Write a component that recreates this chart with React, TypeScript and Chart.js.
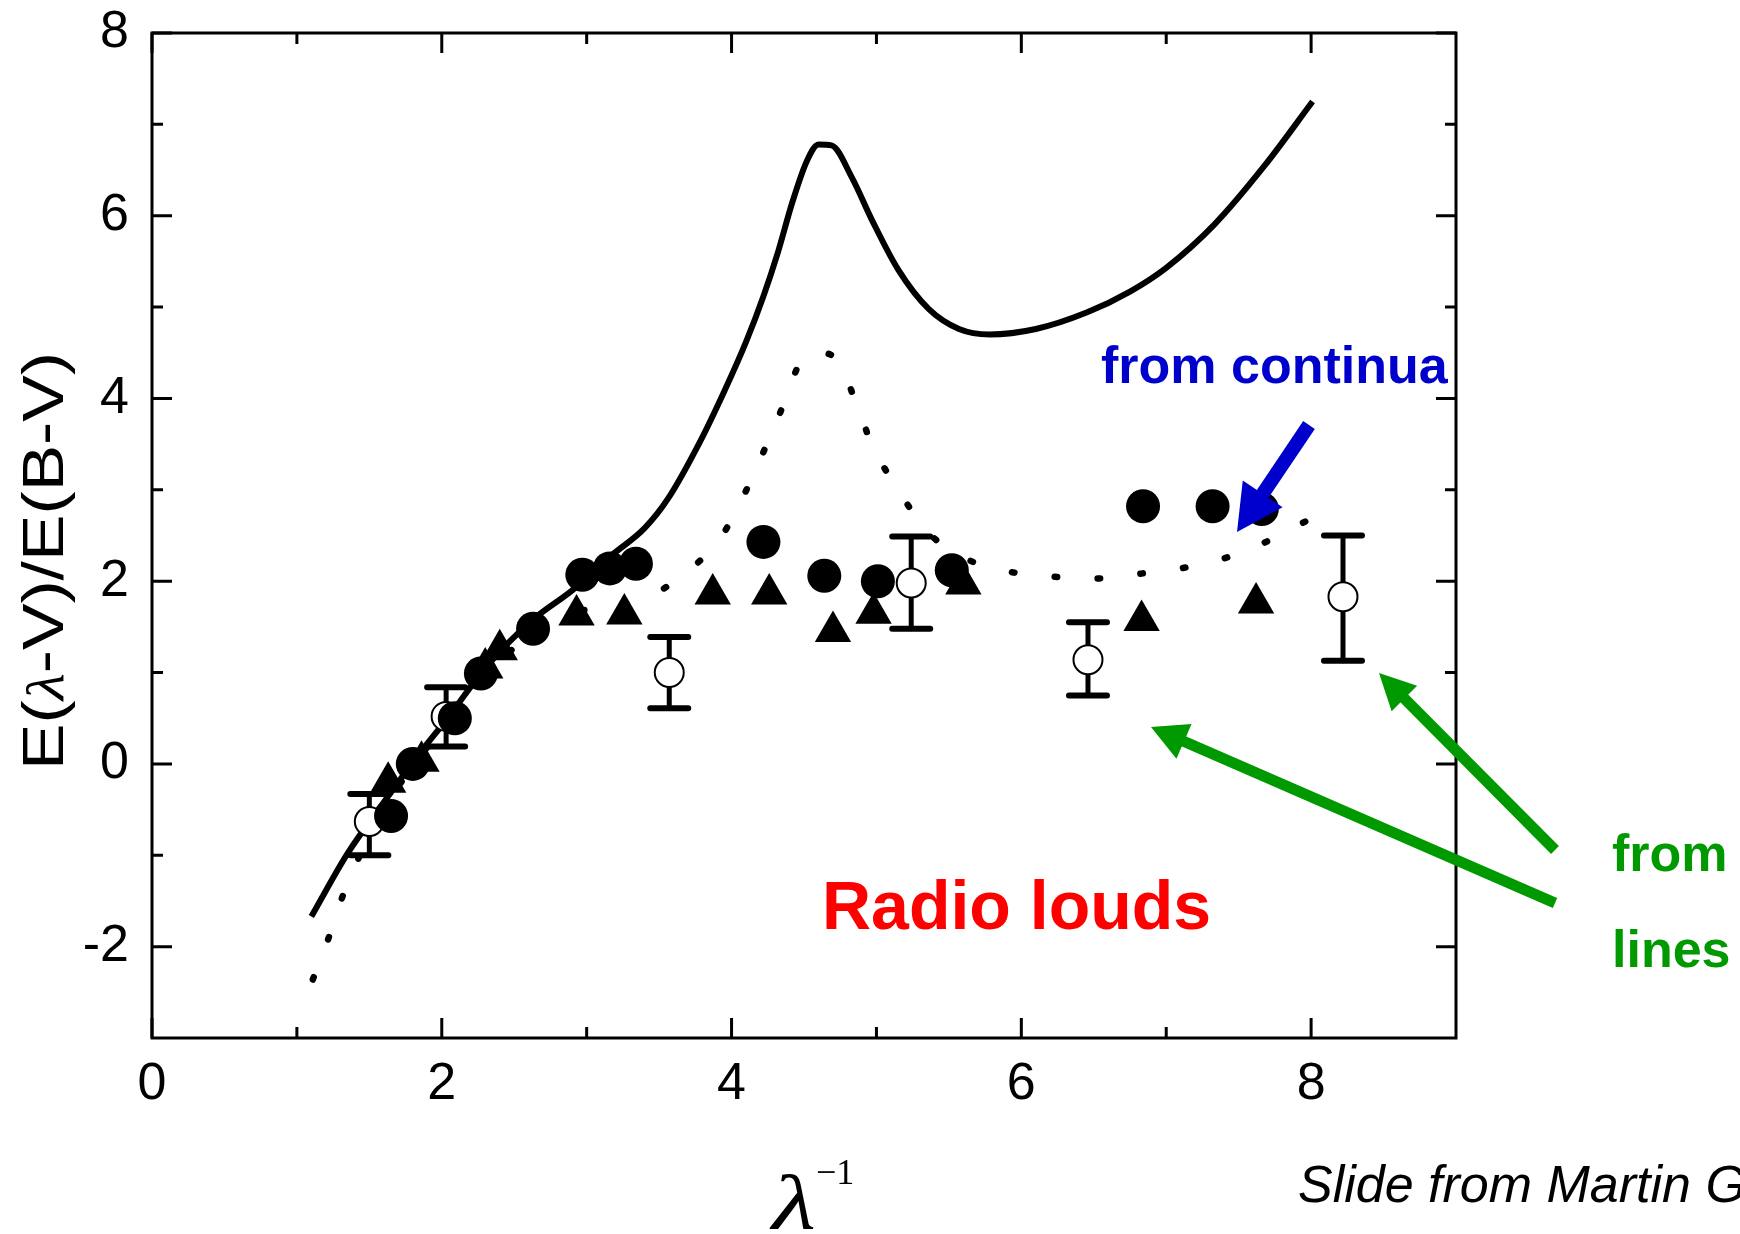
import React, { useEffect, useRef } from "react";
import { Chart, registerables } from "chart.js";

Chart.register(...registerables);

// ---- Data ----
// Solid curve (Galactic extinction curve)
const solidX = [1.1, 1.35, 1.6, 1.83, 2.05, 2.3, 2.63, 2.9, 3.17, 3.4, 3.56, 3.78, 3.95, 4.1, 4.22, 4.32, 4.42, 4.52, 4.6, 4.69, 4.83, 4.97, 5.15, 5.36, 5.57, 5.78, 6.1, 6.45, 6.75, 7.0, 7.33, 7.68, 8.01];
const solidY = [-1.67, -0.98, -0.42, 0.08, 0.52, 1.05, 1.58, 1.9, 2.28, 2.58, 2.9, 3.52, 4.08, 4.62, 5.12, 5.6, 6.15, 6.6, 6.78, 6.77, 6.42, 5.95, 5.41, 4.98, 4.76, 4.7, 4.76, 4.94, 5.17, 5.43, 5.9, 6.55, 7.25];

// Dotted curve
const dotX = [1.11, 1.22, 1.32, 1.45, 1.6, 1.8, 2.0, 2.2, 2.45, 2.77, 3.07, 3.37, 3.65, 3.93, 4.1, 4.23, 4.35, 4.47, 4.6, 4.73, 4.86, 4.97, 5.13, 5.36, 5.64, 5.93, 6.22, 6.52, 6.81, 7.1, 7.4, 7.69, 7.98];
const dotY = [-2.36, -1.9, -1.43, -0.95, -0.5, -0.02, 0.38, 0.8, 1.2, 1.62, 1.7, 1.79, 2.05, 2.49, 2.99, 3.45, 3.9, 4.38, 4.5, 4.42, 3.95, 3.49, 3.05, 2.53, 2.23, 2.1, 2.05, 2.03, 2.08, 2.14, 2.25, 2.43, 2.67];

// Filled circles
const fillX = [1.65, 1.8, 2.09, 2.27, 2.63, 2.97, 3.16, 3.34, 4.22, 4.64, 5.01, 5.52, 6.84, 7.32, 7.66];
const fillY = [-0.57, 0.0, 0.5, 0.99, 1.48, 2.07, 2.14, 2.19, 2.43, 2.06, 2.0, 2.12, 2.82, 2.82, 2.79];

// Filled triangles
const triX = [1.63, 1.86, 2.3, 2.4, 2.93, 3.26, 3.87, 4.26, 4.7, 4.98, 5.6, 6.83, 7.62];
const triY = [-0.2, 0.03, 1.05, 1.25, 1.63, 1.64, 1.86, 1.86, 1.45, 1.65, 1.97, 1.57, 1.76];

// Open circles with error bars
const openX = [1.5, 2.03, 3.57, 5.24, 6.46, 8.22];
const openY = [-0.63, 0.52, 1.0, 1.98, 1.14, 1.83];
const openLo = [-1.0, 0.19, 0.61, 1.48, 0.75, 1.13];
const openHi = [-0.33, 0.84, 1.39, 2.49, 1.55, 2.5];

// Axes
const xTicks = [0, 2, 4, 6, 8];
const yTicks = [-2, 0, 2, 4, 6, 8];
const xMinor = [1, 3, 5, 7];
const yMinor = [-1, 1, 3, 5, 7];

const SANS = '"Liberation Sans", Arial, Helvetica, sans-serif';
const SERIF = '"Liberation Serif", "Times New Roman", serif';

const pts = (xs: number[], ys: number[]) => xs.map((x, i) => ({ x, y: ys[i] }));

const errorBarPlugin = {
  id: "errorBars",
  beforeDatasetsDraw(chart: any) {
    const { ctx, scales } = chart;
    const xs = scales.x, ys = scales.y;
    ctx.save();
    ctx.strokeStyle = "#000";
    ctx.lineCap = "round";
    openX.forEach((xv, i) => {
      const px = xs.getPixelForValue(xv);
      const pLo = ys.getPixelForValue(openLo[i]);
      const pHi = ys.getPixelForValue(openHi[i]);
      ctx.lineWidth = 5;
      ctx.beginPath();
      ctx.moveTo(px, pLo);
      ctx.lineTo(px, pHi);
      ctx.stroke();
      ctx.lineWidth = 6;
      ctx.beginPath();
      ctx.moveTo(px - 19, pLo);
      ctx.lineTo(px + 19, pLo);
      ctx.moveTo(px - 19, pHi);
      ctx.lineTo(px + 19, pHi);
      ctx.stroke();
    });
    ctx.restore();
  },
};

const framePlugin = {
  id: "frame",
  afterDatasetsDraw(chart: any) {
    const { ctx, chartArea: a, scales } = chart;
    const xs = scales.x, ys = scales.y;
    ctx.save();
    ctx.strokeStyle = "#000";
    ctx.lineWidth = 3;
    ctx.lineCap = "butt";
    ctx.strokeRect(a.left, a.top, a.right - a.left, a.bottom - a.top);
    const MAJ = 20, MIN = 11;
    ctx.beginPath();
    const xt = (v: number, len: number) => {
      const p = xs.getPixelForValue(v);
      ctx.moveTo(p, a.bottom);
      ctx.lineTo(p, a.bottom - len);
      ctx.moveTo(p, a.top);
      ctx.lineTo(p, a.top + len);
    };
    const yt = (v: number, len: number) => {
      const p = ys.getPixelForValue(v);
      ctx.moveTo(a.left, p);
      ctx.lineTo(a.left + len, p);
      ctx.moveTo(a.right, p);
      ctx.lineTo(a.right - len, p);
    };
    xTicks.forEach((v) => xt(v, MAJ));
    xMinor.forEach((v) => xt(v, MIN));
    yTicks.forEach((v) => yt(v, MAJ));
    yMinor.forEach((v) => yt(v, MIN));
    ctx.stroke();
    ctx.restore();
  },
};

function drawArrow(ctx: CanvasRenderingContext2D, x1: number, y1: number, x2: number, y2: number, shaft: number, headLen: number, headW: number, color: string) {
  const ang = Math.atan2(y2 - y1, x2 - x1);
  const ux = Math.cos(ang), uy = Math.sin(ang);
  const bx = x2 - ux * headLen, by = y2 - uy * headLen;
  ctx.save();
  ctx.strokeStyle = color;
  ctx.fillStyle = color;
  ctx.lineWidth = shaft;
  ctx.lineCap = "butt";
  ctx.beginPath();
  ctx.moveTo(x1, y1);
  ctx.lineTo(bx + ux * 3, by + uy * 3);
  ctx.stroke();
  ctx.beginPath();
  ctx.moveTo(x2, y2);
  ctx.lineTo(bx - uy * headW / 2, by + ux * headW / 2);
  ctx.lineTo(bx + uy * headW / 2, by - ux * headW / 2);
  ctx.closePath();
  ctx.fill();
  ctx.restore();
}

const annotationPlugin = {
  id: "annotations",
  afterDraw(chart: any) {
    const ctx: CanvasRenderingContext2D = chart.ctx;
    ctx.save();
    ctx.textBaseline = "alphabetic";
    ctx.textAlign = "left";

    // Y axis title
    ctx.save();
    ctx.translate(63, 561);
    ctx.rotate(-Math.PI / 2);
    const parts = [
      { t: "E(", f: `58px ${SANS}` },
      { t: "\u03bb", f: `italic 52px ${SERIF}` },
      { t: "-V)/E(B-V)", f: `58px ${SANS}` },
    ];
    let W = 0;
    parts.forEach((p) => {
      ctx.font = p.f;
      W += ctx.measureText(p.t).width;
    });
    const sx = 418 / W;
    ctx.scale(sx, 1);
    ctx.fillStyle = "#000";
    let cx = -W / 2;
    parts.forEach((p) => {
      ctx.font = p.f;
      ctx.fillText(p.t, cx, 0);
      cx += ctx.measureText(p.t).width;
    });
    ctx.restore();

    // X axis title
    ctx.fillStyle = "#000";
    ctx.save();
    ctx.translate(772, 1229);
    ctx.scale(1.3, 1);
    ctx.font = `italic 78px ${SERIF}`;
    ctx.fillText("\u03bb", 0, 0);
    ctx.restore();
    ctx.font = `36px ${SERIF}`;
    ctx.fillText("\u22121", 816, 1184);

    // Annotations
    ctx.font = `bold 52px ${SANS}`;
    ctx.fillStyle = "#0000CC";
    ctx.fillText("from continua", 1101, 383);
    ctx.fillStyle = "#009900";
    ctx.fillText("from", 1612, 871);
    ctx.fillText("lines", 1612, 967);
    ctx.font = `bold 68px ${SANS}`;
    ctx.fillStyle = "#FF0000";
    ctx.fillText("Radio louds", 822, 929);
    ctx.font = `italic 52px ${SANS}`;
    ctx.fillStyle = "#000";
    ctx.fillText("Slide from Martin G", 1298, 1202);

    // Arrows
    drawArrow(ctx, 1309, 425, 1237, 532, 14, 46, 48, "#0000CC");
    drawArrow(ctx, 1555, 850, 1379, 673, 11, 36, 36, "#009900");
    drawArrow(ctx, 1555, 903, 1151, 727, 11, 36, 38, "#009900");
    ctx.restore();
  },
};

export default function App() {
  const ref = useRef<HTMLCanvasElement>(null);
  useEffect(() => {
    const canvas = ref.current;
    if (!canvas) return;
    const chart = new Chart(canvas, {
      type: "scatter",
      data: {
        datasets: [
          {
            label: "solid",
            data: pts(solidX, solidY),
            showLine: true,
            borderColor: "#000",
            borderWidth: 6,
            pointRadius: 0,
            cubicInterpolationMode: "monotone",
            fill: false,
            order: 5,
          },
          {
            label: "dotted",
            data: pts(dotX, dotY),
            showLine: true,
            borderColor: "#000",
            borderWidth: 6.5,
            borderDash: [2.5, 40.5],
            borderCapStyle: "round",
            pointRadius: 0,
            cubicInterpolationMode: "monotone",
            fill: false,
            order: 4,
          },
          {
            label: "open",
            data: pts(openX, openY),
            pointStyle: "circle",
            pointRadius: 14.5,
            pointBackgroundColor: "#fff",
            pointBorderColor: "#000",
            pointBorderWidth: 2,
            order: 3,
          },
          {
            label: "filled",
            data: pts(fillX, fillY),
            pointStyle: "circle",
            pointRadius: 17,
            pointBackgroundColor: "#000",
            pointBorderColor: "#000",
            pointBorderWidth: 0,
            order: 2,
          },
          {
            label: "triangles",
            data: pts(triX, triY),
            pointStyle: "triangle",
            pointRadius: 21,
            pointBackgroundColor: "#000",
            pointBorderColor: "#000",
            pointBorderWidth: 0,
            order: 1,
          },
        ],
      } as any,
      options: {
        responsive: false,
        maintainAspectRatio: false,
        animation: false,
        devicePixelRatio: 1,
        events: [],
        layout: { padding: { left: 0, right: 284, top: 33, bottom: 0 } },
        plugins: {
          legend: { display: false },
          tooltip: { enabled: false },
          title: { display: false },
        },
        scales: {
          x: {
            type: "linear",
            position: "bottom",
            min: 0,
            max: 9,
            grid: { display: false, drawTicks: false },
            border: { display: false },
            ticks: {
              color: "#000",
              padding: 15,
              font: { family: SANS, size: 52 },
              maxRotation: 0,
            },
            afterBuildTicks: (s: any) => {
              s.ticks = xTicks.map((v) => ({ value: v }));
            },
            afterFit: (s: any) => {
              s.height = 196;
              s.paddingLeft = 0;
              s.paddingRight = 0;
            },
          },
          y: {
            type: "linear",
            position: "left",
            min: -3,
            max: 8,
            grid: { display: false, drawTicks: false },
            border: { display: false },
            ticks: {
              color: "#000",
              padding: 23,
              font: { family: SANS, size: 52 },
            },
            afterBuildTicks: (s: any) => {
              s.ticks = yTicks.map((v) => ({ value: v }));
            },
            afterFit: (s: any) => {
              s.width = 152;
              s.paddingTop = 0;
              s.paddingBottom = 0;
            },
          },
        },
      } as any,
      plugins: [errorBarPlugin, framePlugin, annotationPlugin],
    });
    return () => chart.destroy();
  }, []);

  return (
    <div style={{ position: "absolute", left: 0, top: 0, width: 1740, height: 1234, background: "#fff", overflow: "hidden" }}>
      <canvas ref={ref} width={1740} height={1234} style={{ display: "block", width: 1740, height: 1234 }} />
    </div>
  );
}
